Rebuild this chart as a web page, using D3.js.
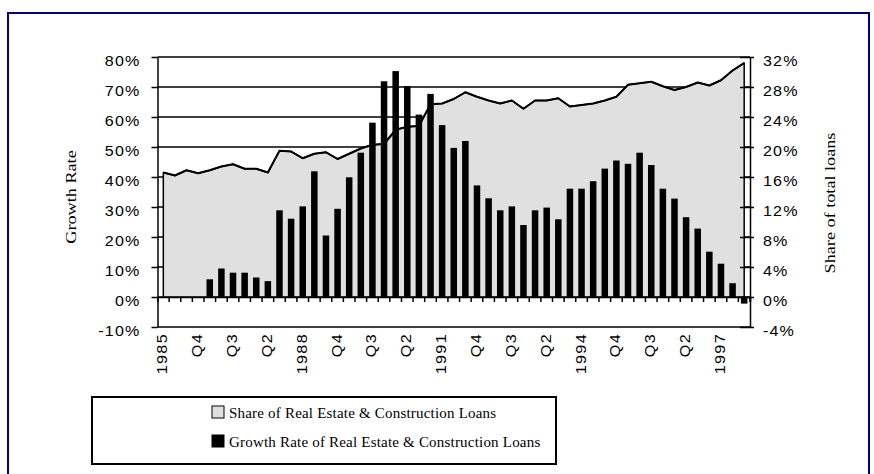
<!DOCTYPE html>
<html>
<head>
<meta charset="utf-8">
<script src="https://cdn.jsdelivr.net/npm/d3@7"></script>
<style>
  html, body { margin: 0; padding: 0; background: #fff; }
  svg { display: block; }
</style>
</head>
<body>
<svg id="chart" width="874" height="474"></svg>
<script>
// Quarterly observations, 1985 Q1 – 1997 Q3
const quarters = [
  "1985Q1","1985Q2","1985Q3","1985Q4","1986Q1","1986Q2","1986Q3","1986Q4",
  "1987Q1","1987Q2","1987Q3","1987Q4","1988Q1","1988Q2","1988Q3","1988Q4",
  "1989Q1","1989Q2","1989Q3","1989Q4","1990Q1","1990Q2","1990Q3","1990Q4",
  "1991Q1","1991Q2","1991Q3","1991Q4","1992Q1","1992Q2","1992Q3","1992Q4",
  "1993Q1","1993Q2","1993Q3","1993Q4","1994Q1","1994Q2","1994Q3","1994Q4",
  "1995Q1","1995Q2","1995Q3","1995Q4","1996Q1","1996Q2","1996Q3","1996Q4",
  "1997Q1","1997Q2","1997Q3"
];

// Axis labels shown under every third quarter
const tickLabels = {
  "1985Q1": "1985", "1985Q4": "Q4", "1986Q3": "Q3", "1987Q2": "Q2",
  "1988Q1": "1988", "1988Q4": "Q4", "1989Q3": "Q3", "1990Q2": "Q2",
  "1991Q1": "1991", "1991Q4": "Q4", "1992Q3": "Q3", "1993Q2": "Q2",
  "1994Q1": "1994", "1994Q4": "Q4", "1995Q3": "Q3", "1996Q2": "Q2",
  "1997Q1": "1997"
};

// Growth rate of real estate & construction loans (%, left axis)
const growthRate = [
  null, null, null, null, 5.9, 9.5, 8.1, 8.1, 6.5, 5.3,
  28.9, 26.1, 30.2, 41.9, 20.5, 29.4, 39.9, 48.1, 58.1, 71.9,
  75.3, 70.3, 60.8, 67.7, 57.3, 49.7, 52.0, 37.2, 32.9, 28.9,
  30.2, 24.0, 28.9, 29.8, 25.9, 36.1, 36.1, 38.6, 42.8, 45.5,
  44.4, 48.1, 44.0, 36.1, 32.8, 26.6, 22.8, 15.1, 11.1, 4.6,
  -2.2
];

// Share of real estate & construction loans in total loans (%, right axis)
const loanShare = [
  16.6, 16.2, 16.9, 16.5, 16.9, 17.4, 17.7, 17.1, 17.1, 16.6,
  19.5, 19.4, 18.5, 19.1, 19.3, 18.4, 19.1, 19.8, 20.3, 20.4,
  22.3, 22.7, 22.8, 25.7, 25.8, 26.4, 27.3, 26.7, 26.2, 25.8,
  26.2, 25.1, 26.2, 26.2, 26.5, 25.4, 25.6, 25.8, 26.2, 26.7,
  28.3, 28.5, 28.7, 28.1, 27.6, 28.0, 28.6, 28.2, 28.9, 30.2,
  31.2
];

const leftTicks = [-10, 0, 10, 20, 30, 40, 50, 60, 70, 80];
const rightTicks = [-4, 0, 4, 8, 12, 16, 20, 24, 28, 32];

const legendItems = [
  { label: "Share of Real Estate & Construction Loans", fill: "#e0e0e0" },
  { label: "Growth Rate of Real Estate & Construction Loans", fill: "#000" }
];

const svg = d3.select("#chart");
const sansFont = "'Liberation Sans', Arial, sans-serif";
const serifFont = "'Liberation Serif', 'Times New Roman', serif";
const stretch = 1.15;

// outer frame (continues below the visible area)
svg.append("rect")
  .attr("x", 8).attr("y", 13).attr("width", 861).attr("height", 475)
  .attr("fill", "#fff").attr("stroke", "#000080").attr("stroke-width", 2);

const plot = { left: 157.5, right: 750, top: 57, bottom: 327 };

const x = d3.scaleBand().domain(quarters).range([plot.left, plot.right]).padding(0);
const yL = d3.scaleLinear().domain([-10, 80]).range([plot.bottom, plot.top]);
const yR = d3.scaleLinear().domain([-4, 32]).range([plot.bottom, plot.top]);
const cx = q => x(q) + x.bandwidth() / 2;

// horizontal gridlines
svg.append("g").selectAll("line").data(leftTicks).join("line")
  .attr("x1", plot.left).attr("x2", plot.right)
  .attr("y1", d => yL(d)).attr("y2", d => yL(d))
  .attr("stroke", "#000").attr("stroke-width", 1.5);

// share of total loans: filled area with outline
const shareData = quarters.map((q, i) => ({ q, v: loanShare[i] }));
const area = d3.area().x(d => cx(d.q)).y0(yR(0)).y1(d => yR(d.v));
svg.append("path").datum(shareData)
  .attr("d", area)
  .attr("fill", "#e0e0e0").attr("stroke", "#000").attr("stroke-width", 1.5)
  .attr("stroke-linejoin", "round");
svg.append("path").datum(shareData)
  .attr("d", d3.line().x(d => cx(d.q)).y(d => yR(d.v)))
  .attr("fill", "none").attr("stroke", "#000").attr("stroke-width", 2)
  .attr("stroke-linejoin", "round");

// growth rate bars
const barW = x.bandwidth() * 0.56;
const growthData = quarters.map((q, i) => ({ q, v: growthRate[i] })).filter(d => d.v !== null);
svg.append("g").selectAll("rect").data(growthData).join("rect")
  .attr("x", d => cx(d.q) - barW / 2)
  .attr("width", barW)
  .attr("y", d => Math.min(yL(d.v), yL(0)))
  .attr("height", d => Math.abs(yL(d.v) - yL(0)))
  .attr("fill", "#000");

// category axis along zero line
const xAxis = d3.axisBottom(x).tickSize(5).tickFormat("").tickValues(quarters);
const gx = svg.append("g").attr("transform", `translate(0,${yL(0)})`).call(xAxis);
gx.select(".domain").attr("stroke", "#000").attr("stroke-width", 1.5);
gx.selectAll(".tick line")
  .attr("transform", `translate(${x.bandwidth() / 2},0)`)
  .attr("stroke", "#000").attr("stroke-width", 1.5);

// category labels, rotated
svg.append("g").selectAll("text").data(quarters.filter(q => tickLabels[q])).join("text")
  .attr("transform", d => `translate(${cx(d) + 4},333) rotate(-90) scale(${stretch},1)`)
  .attr("text-anchor", "end")
  .attr("font-family", sansFont).attr("font-size", 14).attr("fill", "#000")
  .attr("letter-spacing", 1.2)
  .text(d => tickLabels[d]);

// left axis
const gl = svg.append("g").attr("transform", `translate(${plot.left},0)`)
  .call(d3.axisLeft(yL).tickValues(leftTicks).tickSize(6).tickSizeOuter(0).tickFormat(""));
gl.select(".domain").attr("stroke", "#000").attr("stroke-width", 1.5);
gl.selectAll(".tick line").attr("stroke", "#000").attr("stroke-width", 1.5);
svg.append("g").selectAll("text").data(leftTicks).join("text")
  .attr("transform", d => `translate(${plot.left - 17},${yL(d) + 8.5}) scale(${stretch},1)`)
  .attr("text-anchor", "end")
  .attr("font-family", sansFont).attr("font-size", 14).attr("fill", "#000")
  .attr("letter-spacing", 1)
  .text(d => d + "%");

// right axis
const gr = svg.append("g").attr("transform", `translate(${plot.right},0)`)
  .call(d3.axisRight(yR).tickValues(rightTicks).tickSize(4).tickSizeOuter(0).tickFormat(""));
gr.select(".domain").attr("stroke", "#000").attr("stroke-width", 1.5);
gr.selectAll(".tick line").attr("x1", -10).attr("stroke", "#000").attr("stroke-width", 1.5);
svg.append("g").selectAll("text").data(rightTicks).join("text")
  .attr("transform", d => `translate(${plot.right + 13},${yR(d) + 8.5}) scale(${stretch},1)`)
  .attr("text-anchor", "start")
  .attr("font-family", sansFont).attr("font-size", 14).attr("fill", "#000")
  .attr("letter-spacing", 1)
  .text(d => d + "%");

// axis titles
svg.append("text")
  .attr("transform", `translate(76,197) rotate(-90) scale(1.3,1)`)
  .attr("text-anchor", "middle")
  .attr("font-family", serifFont).attr("font-size", 14).attr("fill", "#000")
  .text("Growth Rate");
svg.append("text")
  .attr("transform", `translate(835,203) rotate(-90) scale(1.3,1)`)
  .attr("text-anchor", "middle")
  .attr("font-family", serifFont).attr("font-size", 14).attr("fill", "#000")
  .text("Share of total loans");

// legend
const lg = svg.append("g");
lg.append("rect")
  .attr("x", 92).attr("y", 397).attr("width", 464).attr("height", 67)
  .attr("fill", "#fff").attr("stroke", "#000").attr("stroke-width", 2);
const rows = lg.selectAll("g.row").data(legendItems).join("g")
  .attr("class", "row")
  .attr("transform", (d, i) => `translate(212,${406 + i * 29})`);
rows.append("rect")
  .attr("width", 12).attr("height", 12)
  .attr("fill", d => d.fill).attr("stroke", "#000").attr("stroke-width", 1);
rows.append("text")
  .attr("x", 17).attr("y", 12)
  .attr("font-family", serifFont).attr("font-size", 15).attr("fill", "#000")
  .attr("letter-spacing", 0.2)
  .text(d => d.label);
</script>
</body>
</html>
